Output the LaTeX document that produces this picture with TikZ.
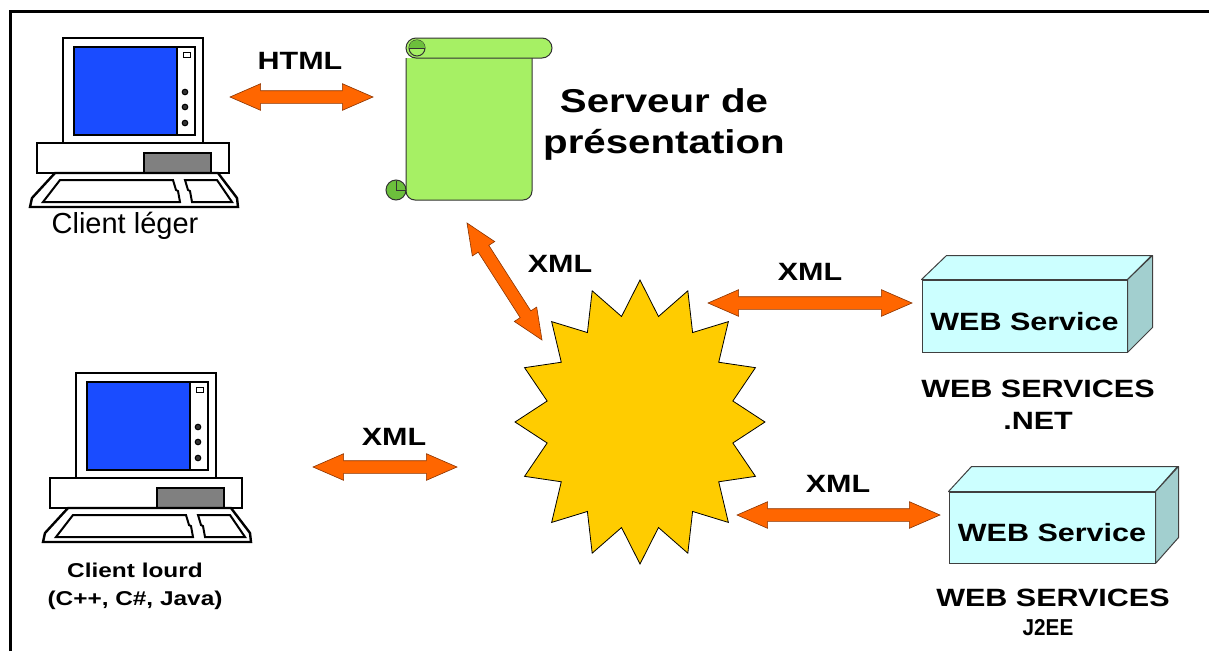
\documentclass[tikz,border=0pt]{standalone}
\usepackage{fontspec}
\setmainfont{Liberation Sans}
\newfontfamily\widefont[FakeStretch=1.22]{Liberation Sans}
\newfontfamily\narrowfont[FakeStretch=0.9]{Liberation Sans}
\usetikzlibrary{shapes.geometric,shapes.arrows,calc}

\definecolor{arroworange}{HTML}{FF6600}
\definecolor{arrowedge}{HTML}{8A3300}
\definecolor{hubyellow}{HTML}{FFCC00}
\definecolor{screenblue}{HTML}{1A4CFF}
\definecolor{drivegray}{HTML}{808080}
\definecolor{scrollgreen}{HTML}{A6F064}
\definecolor{scrolldark}{HTML}{6CBF3C}
\definecolor{boxfront}{HTML}{CCFFFF}
\definecolor{boxside}{HTML}{A2CFCF}

% double headed arrow between two named points
\newcommand\xmllink[2]{%
  \path let \p1=($(#2)-(#1)$), \n1={veclen(\x1,\y1)} in
    (#1) -- node[xmlarrow, minimum height=\n1] {} (#2);}

\tikzset{
  pics/desktop/.style={code={
    % monitor
    \draw[pcline, line width=2.6pt, fill=white] (0,0) rectangle (140,105);
    \draw[pcline, fill=screenblue] (11,9) rectangle (114,97);
    \draw[pcline, fill=white] (114,9) rectangle (132,97);
    \draw[line width=1pt] (120,14) rectangle (127,19);
    \foreach \k in {54,69,85}
      \draw[line width=1pt, fill=black!80] (122,\k) circle (2.8);
    % base unit
    \draw[pcline, fill=white] (-26,105) rectangle (166,135);
    \draw[pcline, fill=drivegray] (81,115) rectangle (148,135);
    % keyboard tray
    \draw[pcline, line width=2.4pt, fill=white] (-8,135) -- (-31,160) -- (-33,169) -- (175,169)
      -- (174,160) -- (155,135) -- cycle;
    \draw[pcline] (-3,142) -- (110,142) -- (113,152) -- (115,153) -- (117,164)
      -- (-20,164) -- cycle;
    \draw[pcline] (122,142) -- (154,142) -- (169,164) -- (129,164) -- (127,153)
      -- (125,152) -- cycle;
  }}
}

\begin{document}
\begin{tikzpicture}[x=1pt,y=-1pt,
  tag/.style={font={\widefont\bfseries\fontsize{25}{32}\selectfont}, inner sep=0pt},
  pcline/.style={line width=2pt, draw=black},
  xmlarrow/.style={double arrow, draw=arrowedge, line width=0.6pt, fill=arroworange,
    double arrow head extend=7pt, double arrow tip angle=47,
    inner xsep=0pt, inner ysep=6pt, sloped},
  wsbox/.style={draw=black!75, line width=1pt, fill=boxfront, tag,
    text height=28pt, text depth=0pt},
  wsside/.style={draw=black!75, line width=1pt, line join=round},
  scroll/.style={draw=black!80, line width=1pt, fill=scrollgreen}]
\useasboundingbox (0,0) rectangle (1209,651);

% frame
\draw[line width=3pt] (10,651) -- (10,11) -- (1209,11);

% clients
\pic (client-light) at (63,38) {desktop};
\pic (client-heavy) at (76,373) {desktop};
\node (client-light-label) [font={\fontsize{29}{34}\selectfont}, anchor=base] at (125,233) {Client léger};
\node (client-heavy-label) [font={\widefont\bfseries\fontsize{20}{28}\selectfont}, align=center] at (135,586) {Client lourd\\(C++, C\#, Java)};

% presentation server (scroll)
\draw[scroll, rounded corners=9] (406,58) -- (406,200) -- (532,200) -- (532,58);
\draw[scroll, rounded corners=10] (406,38) rectangle (552,58);
\draw[scroll] (417,48) circle (8);
\fill[scrolldark] (409,48) arc[start angle=180, end angle=360, radius=8] -- cycle;
\draw[black!80, line width=1pt] (409,48) -- (425,48);
\draw[scroll, fill=scrolldark] (396,190) circle (10);
\draw[black!80, line width=1pt] (396,181) -- (396,190) -- (406,190);
\coordinate (pres-server) at (469,119);
\node (pres-label) [font={\widefont\bfseries\fontsize{33}{41}\selectfont}, align=center] at (664,124) {Serveur de\\présentation};

% central hub
\node (hub) [star, star points=16, star point ratio=1.32, minimum size=284pt, inner sep=0pt,
  xscale=0.88, transform shape, draw=black, line width=0.8pt, fill=hubyellow] at (640,422) {};

% web services
\node (ws-net) [wsbox, minimum width=205, minimum height=72] at (1024.5,316) {WEB Service};
\draw[wsside, fill=boxfront] (ws-net.north west) -- ++(25,-24) -- ++(205,0) -- (ws-net.north east) -- cycle;
\draw[wsside, fill=boxside] (ws-net.north east) -- ++(25,-24) -- ++(0,72) -- (ws-net.south east) -- cycle;
\node (ws-net-label) [tag, align=center] at (1038,405) {WEB SERVICES\\.NET};

\node (ws-j2ee) [wsbox, minimum width=206, minimum height=71] at (1052,527.5) {WEB Service};
\draw[wsside, fill=boxfront] (ws-j2ee.north west) -- ++(23,-25) -- ++(206,0) -- (ws-j2ee.north east) -- cycle;
\draw[wsside, fill=boxside] (ws-j2ee.north east) -- ++(23,-25) -- ++(0,71) -- (ws-j2ee.south east) -- cycle;
\node (ws-j2ee-label) [tag] at (1053,598) {WEB SERVICES};
\node (ws-j2ee-sub) [font={\narrowfont\bfseries\fontsize{23}{27}\selectfont}, inner sep=0pt] at (1048,628) {J2EE};

% exchanges
\coordinate (html-a) at (230,97);   \coordinate (html-b) at (373,97);
\coordinate (pres-a) at (467,223);  \coordinate (pres-b) at (542,340);
\coordinate (net-a) at (708,303);   \coordinate (net-b) at (912,303);
\coordinate (heavy-a) at (313,467); \coordinate (heavy-b) at (457,467);
\coordinate (j2ee-a) at (737,515);  \coordinate (j2ee-b) at (940,515);
\xmllink{html-a}{html-b}
\xmllink{pres-a}{pres-b}
\xmllink{net-a}{net-b}
\xmllink{heavy-a}{heavy-b}
\xmllink{j2ee-a}{j2ee-b}

\node (lbl-html) [tag] at (300,61) {HTML};
\node (lbl-pres) [tag] at (560,264) {XML};
\node (lbl-net) [tag] at (810,272) {XML};
\node (lbl-heavy) [tag] at (394,437) {XML};
\node (lbl-j2ee) [tag] at (838,484) {XML};
\end{tikzpicture}
\end{document}
